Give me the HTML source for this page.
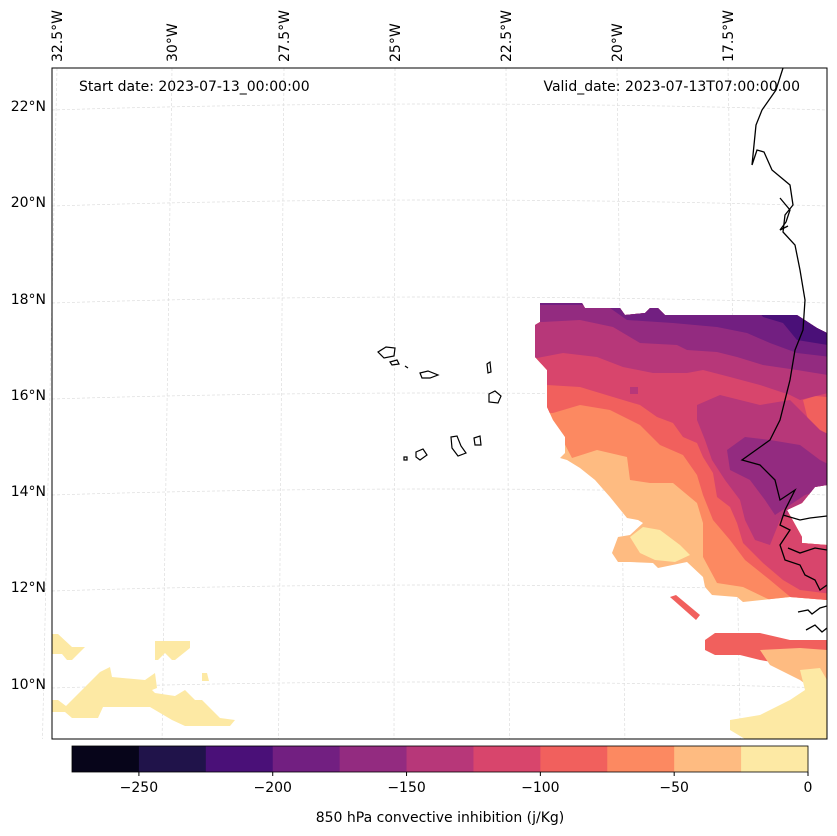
<!DOCTYPE html>
<html><head><meta charset="utf-8"><style>
html,body{margin:0;padding:0;background:#fff;}
svg{display:block;font-family:"DejaVu Sans","Liberation Sans",sans-serif;}
</style></head><body>
<svg id="fig" width="837" height="836" viewBox="0 0 837 836">
<defs><clipPath id="mapclip"><rect x="52" y="68" width="775" height="671"/></clipPath></defs>
<g id="grid"></g>
<g clip-path="url(#mapclip)">
 <clipPath id="outer"><polygon points="540,303 582,303 585,308 620,308 625,315 645,313 650,308 658,308 665,315 797,315 817,328 827,333 827,485 815,487 802,503 787,510 802,537 802,543 827,545 827,600 790,597 743,602 737,597 712,595 705,587 703,577 687,562 658,568 653,563 630,562 618,562 612,553 618,537 630,535 643,523 638,520 627,518 610,497 595,480 580,468 567,460 560,458 565,453 565,437 553,420 547,407 547,370 535,357 535,325 540,322"/></clipPath>
 <g clip-path="url(#outer)">
  <rect x="520" y="290" width="320" height="330" fill="#febb81"/>
  <polygon fill="#fc8961" points="530,435 560,435 572,458 597,450 627,457 630,480 650,483 673,483 697,503 703,523 703,557 717,583 743,587 770,600 840,600 840,290 530,290"/>
  <polygon fill="#f1605d" points="530,413 553,413 580,405 610,410 640,425 660,445 683,455 697,475 703,495 713,520 730,540 745,560 770,580 800,605 840,605 840,290 530,290"/>
  <polygon fill="#d8456c" points="530,385 547,385 580,387 613,397 640,405 657,417 673,423 683,437 697,443 703,457 713,473 717,497 730,507 737,523 743,543 763,563 783,580 800,590 840,595 840,290 530,290"/>
  <polygon fill="#f1605d" points="803,400 815,396 840,398 840,450 822,438 808,420"/>
  <polygon fill="#b73779" points="530,358 537,358 563,353 597,357 623,367 653,373 687,373 703,370 730,377 760,385 790,395 800,400 840,390 840,290 530,290"/>
  <polygon fill="#b73779" points="697,405 720,395 760,405 790,400 800,410 820,430 840,440 840,485 815,490 800,505 780,520 770,545 755,540 745,520 740,500 725,480 712,460 705,440 697,420"/>
  <polygon fill="#932b80" points="727,450 745,437 770,440 800,445 820,460 840,470 840,485 805,495 790,505 775,515 765,500 750,480 730,470"/>
  <polygon fill="#932b80" points="530,322 543,322 580,320 613,327 640,343 677,345 687,350 717,352 737,357 763,365 797,370 840,377 840,290 530,290"/>
  <rect x="630" y="387" width="8" height="7" fill="#b73779"/>
  <polygon fill="#721f81" points="530,305 580,305 610,308 627,320 673,323 717,327 747,333 770,343 797,353 840,358 840,290 530,290"/>
  <polygon fill="#4a1078" points="750,300 763,317 783,323 797,340 840,347 840,290"/>
  <polygon fill="#fde9a4" points="630,537 643,527 660,530 680,545 690,555 675,562 655,560 640,553"/>
 </g>
 <polygon fill="#f1605d" points="670,597 676,595 700,615 696,620"/>
 <polygon fill="#f1605d" points="705,640 715,633 760,633 790,640 827,640 827,660 790,665 760,660 740,655 715,655 705,650"/>
 <polygon fill="#febb81" points="760,650 800,648 827,650 827,700 800,680 770,665"/>
 <polygon fill="#fde9a4" points="730,720 760,715 790,700 805,690 800,670 820,668 827,680 827,739 745,739 730,730"/>
 <polygon fill="#fde9a4" points="52,634 58,634 72,647 85,647 72,660 67,660 62,654 52,654"/>
 <polygon fill="#fde9a4" points="155,641 190,641 190,648 175,660 172,660 165,653 158,660 155,660"/>
 <polygon fill="#fde9a4" points="202,673 207,673 209,681 202,681"/>
 <polygon fill="#fde9a4" points="52,700 58,700 66,706 100,672 110,667 112,677 145,680 155,673 157,688 152,690 155,693 175,696 185,690 195,700 202,700 220,718 235,720 230,726 185,726 172,720 150,707 103,707 98,718 72,718 65,712 52,712"/>
 <g fill="none" stroke="#000" stroke-width="1.3">
  <polyline points="783,68 776,90 762,110 756,125 752,165 757,150 764,152 772,170 790,185 793,205 785,215 783,232 795,245 800,270 805,300 803,330 795,350 790,380 780,420 770,440 742,460 760,465 775,480 780,500 795,490 785,510 780,525 790,530 780,545 785,560 800,565 805,575 815,580 820,590 827,585"/>
  <polyline points="783,515 800,520 810,518 827,516"/>
  <polyline points="788,548 800,553 815,548 827,550"/>
  <polyline points="798,612 808,610 812,614 820,608 827,606"/>
  <polyline points="806,630 815,625 822,632 827,628"/>
  <polyline points="780,198 790,210 786,222 780,230 788,226"/>
 </g>
 <g fill="none" stroke="#000" stroke-width="1.2">
  <path d="M378,352 L386,347 L395,348 L394,356 L384,358 Z"/>
  <path d="M390,362 L397,360 L399,364 L392,365 Z"/>
  <path d="M405,366 L408,368"/>
  <path d="M420,373 L428,371 L438,375 L430,378 L422,378 Z"/>
  <path d="M487,364 L490,362 L491,372 L488,373 Z"/>
  <path d="M489,394 L495,391 L501,396 L498,403 L489,402 Z"/>
  <path d="M451,437 L457,436 L461,446 L466,453 L458,456 L452,448 Z"/>
  <path d="M474,438 L480,436 L481,445 L475,445 Z"/>
  <path d="M416,452 L423,449 L427,455 L420,460 L416,457 Z"/>
  <path d="M404,457 L407,457 L407,460 L404,460 Z"/>
 </g>
</g>
<rect x="52" y="68" width="775" height="671" fill="none" stroke="#000" stroke-width="1"/>
<text x="79" y="91" font-size="14">Start date: 2023-07-13_00:00:00</text>
<text x="800" y="91" font-size="14" text-anchor="end">Valid_date: 2023-07-13T07:00:00.00</text>
<g id="lonlabels"></g>
<g id="latlabels"></g>
<g id="cbar"></g>
<text x="440" y="822" font-size="14" text-anchor="middle">850 hPa convective inhibition (j/Kg)</text>
</svg>
<script>
const levels = [-275,-250,-225,-200,-175,-150,-125,-100,-75,-50,-25,0];
const levelColors = ["#07051a","#20134a","#4a1078","#721f81","#932b80","#b73779","#d8456c","#f1605d","#fc8961","#febb81","#fde9a4"];
const cbarTicks = [-250,-200,-150,-100,-50,0];
const lonTicks = ["32.5°W","30°W","27.5°W","25°W","22.5°W","20°W","17.5°W"];
const lonTopX = [57,172,284,395,506,617,728];
const latTicks = ["22°N","20°N","18°N","16°N","14°N","12°N","10°N"];
const latY = [106,202,299,395,491,587,684];
const NS="http://www.w3.org/2000/svg";
function mk(t,a,p){const e=document.createElementNS(NS,t);for(const k in a)e.setAttribute(k,a[k]);p.appendChild(e);return e;}
const cx=v=>72+(v-levels[0])/(levels[levels.length-1]-levels[0])*736;
const cb=document.getElementById('cbar');
for(let i=0;i<levelColors.length;i++){
 const r=mk('rect',{x:cx(levels[i]),y:746,width:cx(levels[i+1])-cx(levels[i])+0.5,height:26,fill:levelColors[i]},cb);
 
 
}
mk('rect',{x:72,y:746,width:736,height:26,fill:'none',stroke:'#000','stroke-width':0.8},cb);
cbarTicks.forEach(v=>{
 const x=cx(v);
 mk('line',{x1:x,y1:772,x2:x,y2:776,stroke:'#000'},cb);
 const t=mk('text',{x:x,y:792,'font-size':14,'text-anchor':'middle'},cb);
 t.textContent=(v<0?'\u2212'+(-v):String(v));
 
 
});
const g=document.getElementById('grid');
lonTopX.forEach(x=>{
 const xb=420+(x-420)*1.04;
 mk('line',{x1:x,y1:68,x2:xb,y2:739,stroke:'#ddd','stroke-width':0.7,'stroke-dasharray':'3,2'},g);
});
latY.forEach(y=>{
 mk('path',{d:`M52,${y+4} Q440,${y-8} 827,${y+4}`,fill:'none',stroke:'#ddd','stroke-width':0.7,'stroke-dasharray':'3,2'},g);
});
const ll=document.getElementById('lonlabels');
lonTicks.forEach((s,i)=>{
 const x=lonTopX[i]+5;
 const t=mk('text',{x:0,y:0,'font-size':14,transform:`translate(${x},62) rotate(-90)`},ll);
 t.textContent=s;
 
 
});
const la=document.getElementById('latlabels');
latTicks.forEach((s,i)=>{
 const t=mk('text',{x:46,y:latY[i]+5,'font-size':14,'text-anchor':'end'},la);
 t.textContent=s;
 
 
});
</script>
</body></html>
